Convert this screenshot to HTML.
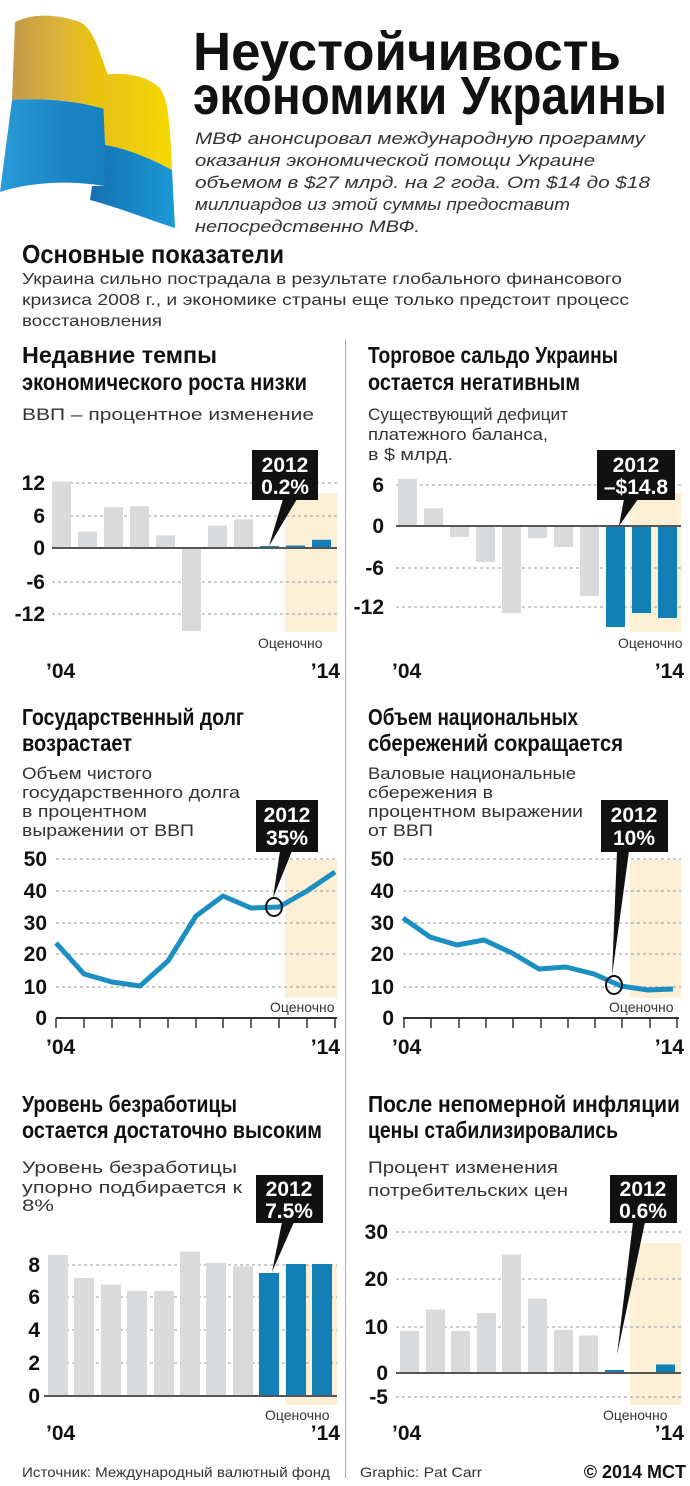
<!DOCTYPE html>
<html><head><meta charset="utf-8"><style>
html,body{margin:0;padding:0;background:#fff}
svg{display:block}
.t{font-family:"Liberation Sans Narrow","Liberation Sans",sans-serif;font-weight:bold;fill:#111}
.s{font-family:"Liberation Sans",sans-serif;fill:#333}
.ax{font-family:"Liberation Sans Narrow","Liberation Sans",sans-serif;font-weight:bold;fill:#111;font-size:21px}
.cb{font-family:"Liberation Sans Narrow","Liberation Sans",sans-serif;font-weight:bold;fill:#fff;font-size:21px;text-anchor:middle}
.g{stroke:#999;stroke-width:1;stroke-dasharray:3,3}
.z{stroke:#555;stroke-width:2}
.est{font-family:"Liberation Sans Narrow","Liberation Sans",sans-serif;fill:#333;font-size:14px}
</style></head><body>
<svg width="690" height="1486" viewBox="0 0 690 1486" xmlns="http://www.w3.org/2000/svg">
<defs>
<linearGradient id="yl" x1="0" y1="0" x2="1" y2="0"><stop offset="0" stop-color="#c49a4a"/><stop offset="0.5" stop-color="#dcb438"/><stop offset="1" stop-color="#eec800"/></linearGradient>
<linearGradient id="yr" x1="0" y1="0" x2="1" y2="0"><stop offset="0" stop-color="#e8c21a"/><stop offset="1" stop-color="#f6d800"/></linearGradient>
<linearGradient id="bl" x1="0" y1="0" x2="1" y2="0"><stop offset="0" stop-color="#2a9ad8"/><stop offset="0.6" stop-color="#1a84c4"/><stop offset="1" stop-color="#1580c0"/></linearGradient>
<linearGradient id="br" x1="0" y1="0" x2="1" y2="0"><stop offset="0" stop-color="#1570b0"/><stop offset="1" stop-color="#1a9ad6"/></linearGradient>
</defs>
<!-- flag -->
<path d="M15,22 C35,12 60,15 80,22 C95,30 100,55 108,75 L108,110 C75,100 40,98 12,100 Z" fill="url(#yl)"/>
<path d="M12,100 C40,98 75,100 108,110 L104,186 C70,180 30,182 0,192 Z" fill="url(#bl)"/>
<path d="M102,75 C125,72 145,75 160,88 C168,100 170,120 172,170 C150,158 125,148 105,145 Z" fill="url(#yr)"/>
<path d="M105,145 C125,148 150,158 172,170 L175,228 C150,220 120,208 90,200 L92,186 L104,186 Z" fill="url(#br)"/>
<!-- title -->
<text class="t" x="193" y="70" font-size="54" textLength="428" lengthAdjust="spacingAndGlyphs">Неустойчивость</text>
<text class="t" x="193" y="114" font-size="54" textLength="474" lengthAdjust="spacingAndGlyphs">экономики Украины</text>
<g class="s" font-size="17" font-style="italic" fill="#333">
<text x="195" y="144" textLength="450" lengthAdjust="spacingAndGlyphs">МВФ анонсировал международную программу</text>
<text x="195" y="166" textLength="400" lengthAdjust="spacingAndGlyphs">оказания экономической помощи Украине</text>
<text x="195" y="188" textLength="455" lengthAdjust="spacingAndGlyphs">объемом в $27 млрд. на 2 года. От $14 до $18</text>
<text x="195" y="210" textLength="375" lengthAdjust="spacingAndGlyphs">миллиардов из этой суммы предоставит</text>
<text x="195" y="232" textLength="225" lengthAdjust="spacingAndGlyphs">непосредственно МВФ.</text>
</g>
<text class="t" x="22" y="263" font-size="26" textLength="262" lengthAdjust="spacingAndGlyphs">Основные показатели</text>
<g class="s" font-size="16">
<text x="22" y="284" textLength="600" lengthAdjust="spacingAndGlyphs">Украина сильно пострадала в результате глобального финансового</text>
<text x="22" y="305" textLength="607" lengthAdjust="spacingAndGlyphs">кризиса 2008 г., и экономике страны еще только предстоит процесс</text>
<text x="22" y="326" textLength="140" lengthAdjust="spacingAndGlyphs">восстановления</text>
</g>
<line x1="345.5" y1="340" x2="345.5" y2="1478" stroke="#aaa" stroke-width="1"/>

<!-- Chart 1 -->
<text class="t" x="22" y="363" font-size="23" textLength="195" lengthAdjust="spacingAndGlyphs">Недавние темпы</text>
<text class="t" x="22" y="390" font-size="23" textLength="285" lengthAdjust="spacingAndGlyphs">экономического роста низки</text>
<text class="s" x="22" y="420" font-size="17" textLength="292" lengthAdjust="spacingAndGlyphs">ВВП – процентное изменение</text>
<rect x="285" y="493" width="52" height="139" fill="#fbefd6"/>
<g class="g"><line x1="52" y1="483" x2="337" y2="483"/><line x1="52" y1="516" x2="337" y2="516"/><line x1="52" y1="582" x2="337" y2="582"/><line x1="52" y1="614" x2="337" y2="614"/></g>
<g fill="#d9dadb">
<rect x="52" y="481.5" width="19" height="66.5"/><rect x="78" y="531.5" width="19" height="16.5"/><rect x="104" y="507.3" width="19" height="40.7"/><rect x="130" y="506.2" width="19" height="41.8"/><rect x="156" y="535.4" width="19" height="12.6"/><rect x="182" y="548" width="19" height="83"/><rect x="208" y="525.5" width="19" height="22.5"/><rect x="234" y="519.4" width="19" height="28.6"/>
</g>
<g fill="#1280b4"><rect x="260" y="546" width="19" height="2"/><rect x="286" y="545.5" width="19" height="2.5"/><rect x="312" y="539.8" width="19" height="8.2"/></g>
<line class="z" x1="52" y1="548" x2="337" y2="548"/>
<g class="ax" text-anchor="end"><text x="45" y="490">12</text><text x="45" y="523">6</text><text x="45" y="555">0</text><text x="45" y="589">-6</text><text x="45" y="621">-12</text></g>
<rect x="252" y="450" width="66" height="50" fill="#111"/>
<polygon points="283,499 297,499 269,546" fill="#111"/>
<text class="cb" x="285" y="472">2012</text><text class="cb" x="285" y="494">0.2%</text>
<text class="est" x="258" y="648">Оценочно</text>
<text class="ax" x="46" y="678" font-size="22">’04</text><text class="ax" x="340" y="678" font-size="22" text-anchor="end">’14</text>

<!-- Chart 2 -->
<text class="t" x="368" y="363" font-size="23" textLength="250" lengthAdjust="spacingAndGlyphs">Торговое сальдо Украины</text>
<text class="t" x="368" y="390" font-size="23" textLength="212" lengthAdjust="spacingAndGlyphs">остается негативным</text>
<g class="s" font-size="17"><text x="368" y="420" textLength="200" lengthAdjust="spacingAndGlyphs">Существующий дефицит</text><text x="368" y="440" textLength="180" lengthAdjust="spacingAndGlyphs">платежного баланса,</text><text x="368" y="460" textLength="85" lengthAdjust="spacingAndGlyphs">в $ млрд.</text></g>
<rect x="630" y="493" width="51" height="139" fill="#fbefd6"/>
<g class="g"><line x1="396" y1="485" x2="681" y2="485"/><line x1="396" y1="568" x2="681" y2="568"/><line x1="396" y1="607" x2="681" y2="607"/></g>
<g fill="#d9dadb">
<rect x="398" y="479" width="19" height="47"/><rect x="424" y="508.3" width="19" height="17.7"/><rect x="450" y="526" width="19" height="10.9"/><rect x="476" y="526" width="19" height="36"/><rect x="502" y="526" width="19" height="87"/><rect x="528" y="526" width="19" height="12.2"/><rect x="554" y="526" width="19" height="21"/><rect x="580" y="526" width="19" height="70"/>
</g>
<g fill="#1280b4"><rect x="606" y="526" width="19" height="101"/><rect x="632" y="526" width="19" height="87"/><rect x="658" y="526" width="19" height="92"/></g>
<line class="z" x1="396" y1="526" x2="681" y2="526"/>
<g class="ax" text-anchor="end"><text x="384" y="492">6</text><text x="384" y="533">0</text><text x="384" y="575">-6</text><text x="384" y="614">-12</text></g>
<rect x="597" y="450" width="78" height="50" fill="#111"/>
<polygon points="624,499 638,499 619,526" fill="#111"/>
<text class="cb" x="636" y="472">2012</text><text class="cb" x="636" y="494">–$14.8</text>
<text class="est" x="618" y="648">Оценочно</text>
<text class="ax" x="392" y="678" font-size="22">’04</text><text class="ax" x="684" y="678" font-size="22" text-anchor="end">’14</text>

<!-- Chart 3 -->
<text class="t" x="22" y="725" font-size="23" textLength="222" lengthAdjust="spacingAndGlyphs">Государственный долг</text>
<text class="t" x="22" y="751" font-size="23" textLength="110" lengthAdjust="spacingAndGlyphs">возрастает</text>
<g class="s" font-size="17"><text x="22" y="779" textLength="130" lengthAdjust="spacingAndGlyphs">Объем чистого</text><text x="22" y="798" textLength="218" lengthAdjust="spacingAndGlyphs">государственного долга</text><text x="22" y="817" textLength="125" lengthAdjust="spacingAndGlyphs">в процентном</text><text x="22" y="836" textLength="172" lengthAdjust="spacingAndGlyphs">выражении от ВВП</text></g>
<rect x="285" y="860" width="52" height="138" fill="#fbefd6"/>
<g class="g"><line x1="56" y1="859" x2="337" y2="859"/><line x1="56" y1="891" x2="337" y2="891"/><line x1="56" y1="923" x2="337" y2="923"/><line x1="56" y1="954" x2="337" y2="954"/><line x1="56" y1="987" x2="337" y2="987"/></g>
<line x1="56" y1="1018" x2="337" y2="1018" stroke="#333" stroke-width="2"/>
<g stroke="#333" stroke-width="1.5"><line x1="56" y1="1018" x2="56" y2="1028"/><line x1="84" y1="1018" x2="84" y2="1028"/><line x1="112" y1="1018" x2="112" y2="1028"/><line x1="140" y1="1018" x2="140" y2="1028"/><line x1="168" y1="1018" x2="168" y2="1028"/><line x1="196" y1="1018" x2="196" y2="1028"/><line x1="223" y1="1018" x2="223" y2="1028"/><line x1="251" y1="1018" x2="251" y2="1028"/><line x1="279" y1="1018" x2="279" y2="1028"/><line x1="307" y1="1018" x2="307" y2="1028"/><line x1="335" y1="1018" x2="335" y2="1028"/></g>
<polyline points="56,943 84,974 112,982 140,986 168,961 196,916 223,896 251,908 279,907 307,891 335,872" fill="none" stroke="#1b8ec2" stroke-width="5" stroke-linejoin="round"/>
<ellipse cx="274" cy="907" rx="8" ry="9" fill="none" stroke="#111" stroke-width="2"/>
<g class="ax" text-anchor="end"><text x="47" y="866">50</text><text x="47" y="898">40</text><text x="47" y="930">30</text><text x="47" y="961">20</text><text x="47" y="994">10</text><text x="47" y="1025">0</text></g>
<rect x="256" y="800" width="62" height="52" fill="#111"/>
<polygon points="280,851 292,851 273,898" fill="#111"/>
<text class="cb" x="287" y="822">2012</text><text class="cb" x="287" y="845">35%</text>
<text class="est" x="270" y="1012">Оценочно</text>
<text class="ax" x="46" y="1054" font-size="22">’04</text><text class="ax" x="340" y="1054" font-size="22" text-anchor="end">’14</text>

<!-- Chart 4 -->
<text class="t" x="368" y="725" font-size="23" textLength="210" lengthAdjust="spacingAndGlyphs">Объем национальных</text>
<text class="t" x="368" y="751" font-size="23" textLength="255" lengthAdjust="spacingAndGlyphs">сбережений сокращается</text>
<g class="s" font-size="17"><text x="368" y="779" textLength="208" lengthAdjust="spacingAndGlyphs">Валовые национальные</text><text x="368" y="798" textLength="125" lengthAdjust="spacingAndGlyphs">сбережения в</text><text x="368" y="817" textLength="215" lengthAdjust="spacingAndGlyphs">процентном выражении</text><text x="368" y="836" textLength="65" lengthAdjust="spacingAndGlyphs">от ВВП</text></g>
<rect x="630" y="860" width="51" height="138" fill="#fbefd6"/>
<g class="g"><line x1="403" y1="859" x2="681" y2="859"/><line x1="403" y1="891" x2="681" y2="891"/><line x1="403" y1="923" x2="681" y2="923"/><line x1="403" y1="954" x2="681" y2="954"/><line x1="403" y1="987" x2="681" y2="987"/></g>
<line x1="403" y1="1018" x2="679" y2="1018" stroke="#333" stroke-width="2"/>
<g stroke="#333" stroke-width="1.5"><line x1="404" y1="1018" x2="404" y2="1028"/><line x1="431" y1="1018" x2="431" y2="1028"/><line x1="459" y1="1018" x2="459" y2="1028"/><line x1="486" y1="1018" x2="486" y2="1028"/><line x1="513" y1="1018" x2="513" y2="1028"/><line x1="541" y1="1018" x2="541" y2="1028"/><line x1="568" y1="1018" x2="568" y2="1028"/><line x1="595" y1="1018" x2="595" y2="1028"/><line x1="622" y1="1018" x2="622" y2="1028"/><line x1="650" y1="1018" x2="650" y2="1028"/><line x1="677" y1="1018" x2="677" y2="1028"/></g>
<polyline points="403,918 430,937 457,945 484,940 512,953 539,969 566,967 594,974 621,986 648,990 673,989" fill="none" stroke="#1b8ec2" stroke-width="5" stroke-linejoin="round"/>
<ellipse cx="614" cy="985" rx="8" ry="9" fill="none" stroke="#111" stroke-width="2"/>
<g class="ax" text-anchor="end"><text x="394" y="866">50</text><text x="394" y="898">40</text><text x="394" y="930">30</text><text x="394" y="961">20</text><text x="394" y="994">10</text><text x="394" y="1025">0</text></g>
<rect x="601" y="800" width="67" height="52" fill="#111"/>
<polygon points="617,851 629,851 612,976" fill="#111"/>
<text class="cb" x="634" y="822">2012</text><text class="cb" x="634" y="845">10%</text>
<text class="est" x="609" y="1012">Оценочно</text>
<text class="ax" x="392" y="1054" font-size="22">’04</text><text class="ax" x="684" y="1054" font-size="22" text-anchor="end">’14</text>

<!-- Chart 5 -->
<text class="t" x="22" y="1112" font-size="23" textLength="215" lengthAdjust="spacingAndGlyphs">Уровень безработицы</text>
<text class="t" x="22" y="1138" font-size="23" textLength="300" lengthAdjust="spacingAndGlyphs">остается достаточно высоким</text>
<g class="s" font-size="17"><text x="22" y="1173" textLength="215" lengthAdjust="spacingAndGlyphs">Уровень безработицы</text><text x="22" y="1193" textLength="220" lengthAdjust="spacingAndGlyphs">упорно подбирается к</text><text x="22" y="1211" textLength="32" lengthAdjust="spacingAndGlyphs">8%</text></g>
<rect x="285" y="1265" width="52" height="140" fill="#fbefd6"/>
<g class="g"><line x1="48" y1="1265" x2="337" y2="1265"/><line x1="48" y1="1297" x2="337" y2="1297"/><line x1="48" y1="1330" x2="337" y2="1330"/><line x1="48" y1="1363" x2="337" y2="1363"/></g>
<g fill="#d9dadb">
<rect x="48" y="1255" width="20" height="141"/><rect x="74" y="1278" width="20" height="118"/><rect x="101" y="1284.5" width="20" height="111.5"/><rect x="127" y="1291" width="20" height="105"/><rect x="154" y="1291" width="20" height="105"/><rect x="180" y="1251.7" width="20" height="144.3"/><rect x="206" y="1263" width="20" height="133"/><rect x="233" y="1266.4" width="20" height="129.6"/>
</g>
<g fill="#1280b4"><rect x="259" y="1273" width="20" height="123"/><rect x="286" y="1264" width="20" height="132"/><rect x="312" y="1264" width="20" height="132"/></g>
<line class="z" x1="44" y1="1396" x2="337" y2="1396"/>
<g class="ax" text-anchor="end"><text x="40" y="1272">8</text><text x="40" y="1304">6</text><text x="40" y="1337">4</text><text x="40" y="1370">2</text><text x="40" y="1403">0</text></g>
<rect x="256" y="1175" width="67" height="48" fill="#111"/>
<polygon points="282,1222 294,1222 272,1272" fill="#111"/>
<text class="cb" x="289" y="1196">2012</text><text class="cb" x="289" y="1218">7.5%</text>
<text class="est" x="265" y="1420">Оценочно</text>
<text class="ax" x="46" y="1440" font-size="22">’04</text><text class="ax" x="340" y="1440" font-size="22" text-anchor="end">’14</text>

<!-- Chart 6 -->
<text class="t" x="368" y="1112" font-size="23" textLength="312" lengthAdjust="spacingAndGlyphs">После непомерной инфляции</text>
<text class="t" x="368" y="1138" font-size="23" textLength="250" lengthAdjust="spacingAndGlyphs">цены стабилизировались</text>
<g class="s" font-size="17"><text x="368" y="1173" textLength="190" lengthAdjust="spacingAndGlyphs">Процент изменения</text><text x="368" y="1196" textLength="200" lengthAdjust="spacingAndGlyphs">потребительских цен</text></g>
<rect x="630" y="1243" width="51" height="162" fill="#fbefd6"/>
<g class="g"><line x1="396" y1="1232" x2="681" y2="1232"/><line x1="396" y1="1279" x2="681" y2="1279"/><line x1="396" y1="1327" x2="681" y2="1327"/><line x1="396" y1="1397" x2="681" y2="1397"/></g>
<g fill="#d9dadb">
<rect x="400" y="1331" width="19" height="42"/><rect x="426" y="1309.5" width="19" height="63.5"/><rect x="451" y="1331" width="19" height="42"/><rect x="477" y="1313" width="19" height="60"/><rect x="502" y="1254.6" width="19" height="118.4"/><rect x="528" y="1298.7" width="19" height="74.3"/><rect x="554" y="1329.8" width="19" height="43.2"/><rect x="579" y="1335.4" width="19" height="37.6"/>
</g>
<g fill="#1280b4"><rect x="605" y="1370" width="19" height="3"/><rect x="656" y="1364.5" width="19" height="8.5"/></g>
<line class="z" x1="396" y1="1373" x2="681" y2="1373"/>
<g class="ax" text-anchor="end"><text x="388" y="1239">30</text><text x="388" y="1286">20</text><text x="388" y="1334">10</text><text x="388" y="1380">0</text><text x="388" y="1404">-5</text></g>
<rect x="610" y="1175" width="67" height="48" fill="#111"/>
<polygon points="633,1222 645,1222 617,1355" fill="#111"/>
<text class="cb" x="643" y="1196">2012</text><text class="cb" x="643" y="1218">0.6%</text>
<text class="est" x="603" y="1420">Оценочно</text>
<text class="ax" x="392" y="1440" font-size="22">’04</text><text class="ax" x="684" y="1440" font-size="22" text-anchor="end">’14</text>

<!-- footer -->
<text class="s" x="22" y="1477" font-size="14" textLength="308" lengthAdjust="spacingAndGlyphs">Источник: Международный валютный фонд</text>
<text class="s" x="360" y="1477" font-size="14" textLength="122" lengthAdjust="spacingAndGlyphs">Graphic: Pat Carr</text>
<text class="t" x="686" y="1478" font-size="18" text-anchor="end">© 2014 MCT</text>
</svg>
</body></html>
